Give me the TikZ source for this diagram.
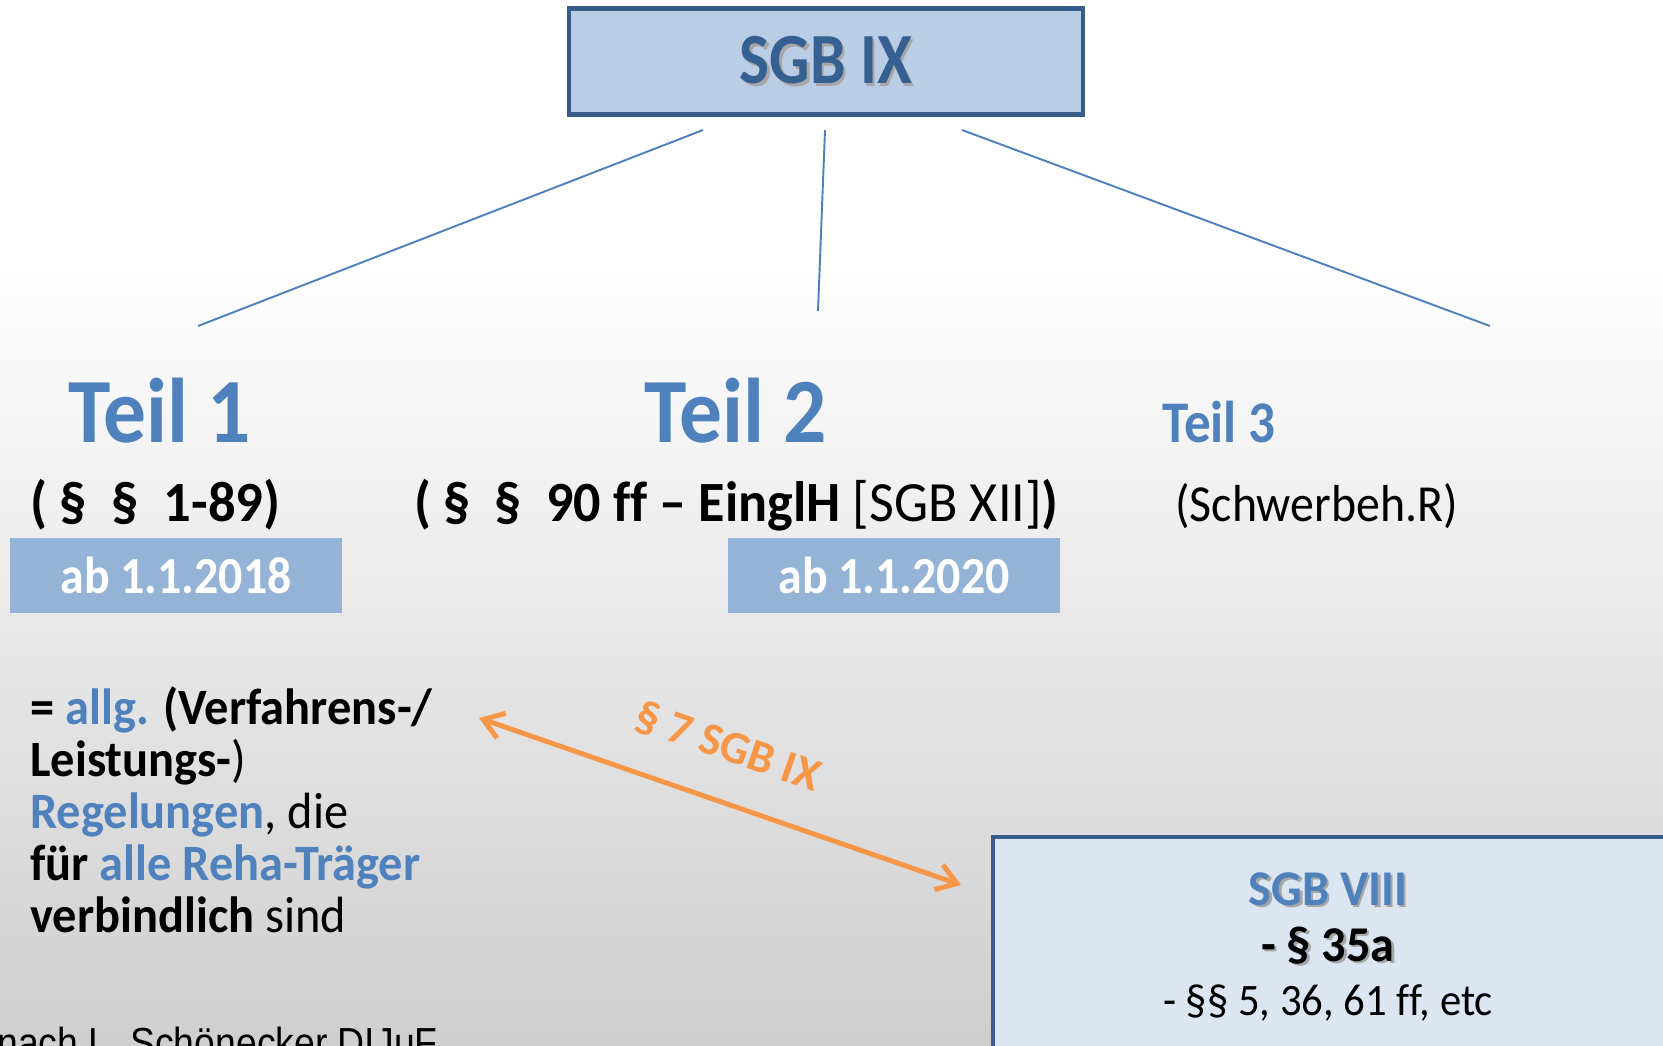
\documentclass[tikz,border=0pt]{standalone}
\usepackage{fontspec}
\setmainfont{Carlito}[Ligatures=NoCommon]
\newfontfamily\arialfont{Liberation Sans}
\usetikzlibrary{arrows.meta}
\definecolor{sgbline}{HTML}{385D8A}
\definecolor{sgbfill}{HTML}{B9CDE5}
\definecolor{sgbtext}{HTML}{376092}
\definecolor{teilblue}{HTML}{4F81BD}
\definecolor{datefill}{HTML}{95B3D7}
\definecolor{paraorange}{HTML}{F79646}
\definecolor{viiifill}{HTML}{DCE6F2}
\newcommand{\nar}[2][0.93]{\scalebox{#1}[1]{#2}}
\newcommand{\shd}[1]{\leavevmode\rlap{\kern1.5pt\raisebox{-1.5pt}{\color{black!35}#1}}#1}

\begin{document}
\begin{tikzpicture}[x=0.02cm, y=-0.02cm]
\tikzset{box/.style={draw=sgbline, line width=2.3pt, inner sep=0pt},
  datebox/.style={fill=datefill, text=white, font=\fontsize{29.6}{34}\selectfont\bfseries, minimum width=6.66cm, minimum height=1.5cm, inner sep=0pt},
  teil/.style={text=teilblue, font=\fontsize{52.3}{60}\selectfont\bfseries, anchor=base west, inner sep=0pt},
  para/.style={font=\fontsize{32.4}{38}\selectfont, anchor=base west, inner sep=0pt},
  zweig/.style={draw=teilblue, line width=1.1pt},
  pfeil/.style={draw=paraorange, line width=2.8pt, <->, >={Straight Barb[length=11pt,width=15pt]}},
  pfeillabel/.style={sloped, above=20pt, pos=0.48, inner sep=0pt, text=paraorange, font=\fontsize{26.2}{30}\selectfont\bfseries},
  viiitext/.style={anchor=base, inner sep=0pt, font=\fontsize{28.5}{34}\selectfont\bfseries}}
\useasboundingbox (0,0) rectangle (1663,1045);
\clip (0,0) rectangle (1663,1045);
\fill[white] (0,0) rectangle (1663,1045);
\shade[top color=white, bottom color=black!19] (0,260) rectangle (1663,1045);
\node[box, fill=sgbfill, minimum width=10.29cm, minimum height=2.12cm, text=sgbtext, font=\fontsize{41}{48}\selectfont\bfseries] (sgb) at (826,61.5) {\nar[0.88]{\shd{SGB IX}}};
\coordinate (cA) at (703,130);
\coordinate (cB) at (825,130);
\coordinate (cC) at (962,130);
\coordinate (eA) at (198,326);
\coordinate (eB) at (818,311);
\coordinate (eC) at (1490,326);
\draw[zweig] (cA) -- (eA);
\draw[zweig] (cB) -- (eB);
\draw[zweig] (cC) -- (eC);
\node[teil] (teilA) at (68,442) {\nar{Teil 1}};
\node[teil] (teilB) at (644,442) {\nar{Teil 2}};
\node[teil, font=\fontsize{33.6}{40}\selectfont\bfseries] (teilC) at (1162,442) {\nar[0.9]{Teil 3}};
\node[para] (parA) at (30,521) {\nar[0.96]{\textbf{( §\ \ §\ \ 1-89)}}};
\node[para] (parB) at (414,521) {\nar[0.95]{\textbf{( §\ \ §\ \ 90 ff – EinglH} [SGB XII]\textbf{)}}};
\node[para, font=\fontsize{29.6}{34}\selectfont] (parC) at (1175,521) {\nar[0.92]{(Schwerbeh.R)}};
\node[datebox] (dateA) at (176,575.5) {\nar[0.92]{ab 1.1.2018}};
\node[datebox] (dateB) at (894,575.5) {\nar[0.92]{ab 1.1.2020}};
\node[anchor=base west, inner sep=0pt, font=\fontsize{29}{29.6}\selectfont] (allg) at (30,724) {\nar[0.95]{\begin{tabular}[t]{@{}l@{}}
\textbf{= \textcolor{teilblue}{allg.} (Verfahrens-/}\\
\textbf{Leistungs-})\\
\textbf{\textcolor{teilblue}{Regelungen}}, die\\
\textbf{für \textcolor{teilblue}{alle Reha-Träger}}\\
\textbf{verbindlich} sind
\end{tabular}}};
\node[box, fill=viiifill, anchor=north west, minimum width=14cm, minimum height=5cm] (viii) at (990.5,835) {};
\node[viiitext, text=teilblue] (viiiT) at (1328,905) {\nar[0.96]{\shd{SGB VIII}}};
\node[viiitext] (viiiA) at (1328,961) {\nar[0.965]{\shd{- § 35a}}};
\node[viiitext, font=\fontsize{25.6}{30}\selectfont] (viiiB) at (1328,1015) {\nar[0.95]{- §§ 5, 36, 61 ff, etc}};
\coordinate (arrL) at (479,718);
\coordinate (arrR) at (961,885);
\draw[pfeil] (arrL) -- node[pfeillabel] (sieben) {§ 7 SGB IX} (arrR);
\node[anchor=base west, inner sep=0pt, font=\arialfont\fontsize{23.9}{28}\selectfont] (quelle) at (-3,1057) {\nar[0.89]{nach L. Schönecker DIJuF}};
\end{tikzpicture}
\end{document}
